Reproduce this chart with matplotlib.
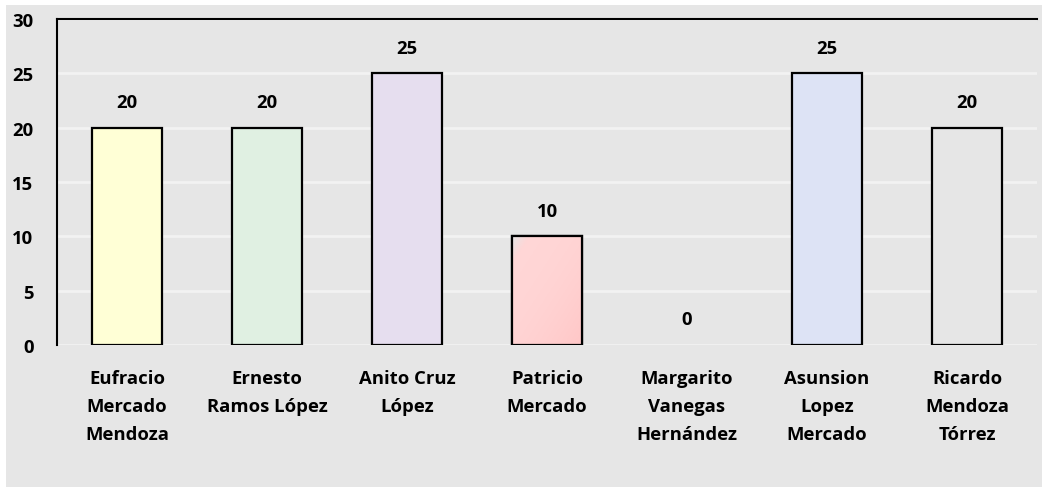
import matplotlib
matplotlib.use("Agg")
import matplotlib.pyplot as plt
import numpy as np
from matplotlib.patches import Rectangle

names = ["Eufracio\nMercado\nMendoza", "Ernesto\nRamos López", "Anito Cruz\nLópez",
         "Patricio\nMercado", "Margarito\nVanegas\nHernández", "Asunsion\nLopez\nMercado",
         "Ricardo\nMendoza\nTórrez"]
values = [20, 20, 25, 10, 0, 25, 20]
colors = ["#FFFFD6", "#E0F0E2", "#E6DEEF", "#FFD6D6", "#E6E6E6", "#DDE3F5", "#E6E6E6"]

plt.rcParams['font.family'] = ['Open Sans', 'DejaVu Sans']
FS = 13.3
W, H = 1044, 489
fig = plt.figure(figsize=(W/100, H/100), dpi=100, facecolor="white")
bg = "#E6E6E6"
fig.patches.append(Rectangle((6/W, 1/H), 1036/W, 482/H, transform=fig.transFigure,
                             facecolor=bg, edgecolor="none", zorder=-10))
ax = fig.add_axes([57/W, 1-346/H, 980/W, 326/H])
ax.set_facecolor(bg)
x = np.arange(len(values))
lws = [1.6 if v > 0 else 0 for v in values]
bars = ax.bar(x, values, width=0.5, color=colors, edgecolor="black", linewidth=lws, zorder=3)

# gradient on patricio bar
b = bars[3]
bx, by = b.get_x(), b.get_y()
bw, bh = b.get_width(), b.get_height()
gx, gy = np.meshgrid(np.linspace(0, 1, 50), np.linspace(0, 1, 50))
t = (gx + gy) / 2  # 0 top-left -> 1 bottom-right (origin upper)
top = np.array([0.90, 0.90, 0.90])
mid = np.array([1.0, 0.84, 0.84])
end = np.array([1.0, 0.78, 0.78])
img = np.zeros((50, 50, 3))
for i in range(3):
    img[..., i] = np.where(t < 0.12, top[i] + (mid[i]-top[i]) * (t/0.12),
                           mid[i] + (end[i]-mid[i]) * ((t-0.12)/0.88)**2)
im = ax.imshow(img, extent=[bx, bx+bw, by, by+bh], origin="upper", aspect="auto", zorder=3.5)
im.set_clip_path(b)
ax.bar([x[3]], [values[3]], width=0.5, color="none", edgecolor="black", linewidth=1.6, zorder=4)

for xi, v in zip(x, values):
    ax.annotate(str(v), (xi, v), xytext=(0, 18.5), textcoords="offset points",
                ha="center", va="center", fontsize=FS, fontweight="bold")

ax.set_xlim(-0.5, len(values) - 0.5)
ax.set_ylim(0, 30)
ax.set_yticks(range(0, 31, 5))
ax.set_yticklabels([str(v) for v in range(0, 31, 5)], fontsize=FS, fontweight="bold")
ax.set_xticks(x)
ax.set_xticklabels(names, fontsize=FS, fontweight="bold", linespacing=1.74)
ax.tick_params(axis="y", length=0, pad=17)
ax.tick_params(axis="x", length=0, pad=17)
ax.yaxis.grid(True, color="#F2F2F2", linewidth=2, zorder=1)
ax.set_axisbelow(True)
for s in ["right", "bottom"]:
    ax.spines[s].set_visible(False)
ax.spines["left"].set_linewidth(1.5)
ax.spines["top"].set_linewidth(1.5)
ax.spines["left"].set_color("black")
ax.spines["top"].set_color("black")
fig.savefig("out.png", dpi=100, facecolor="white")
